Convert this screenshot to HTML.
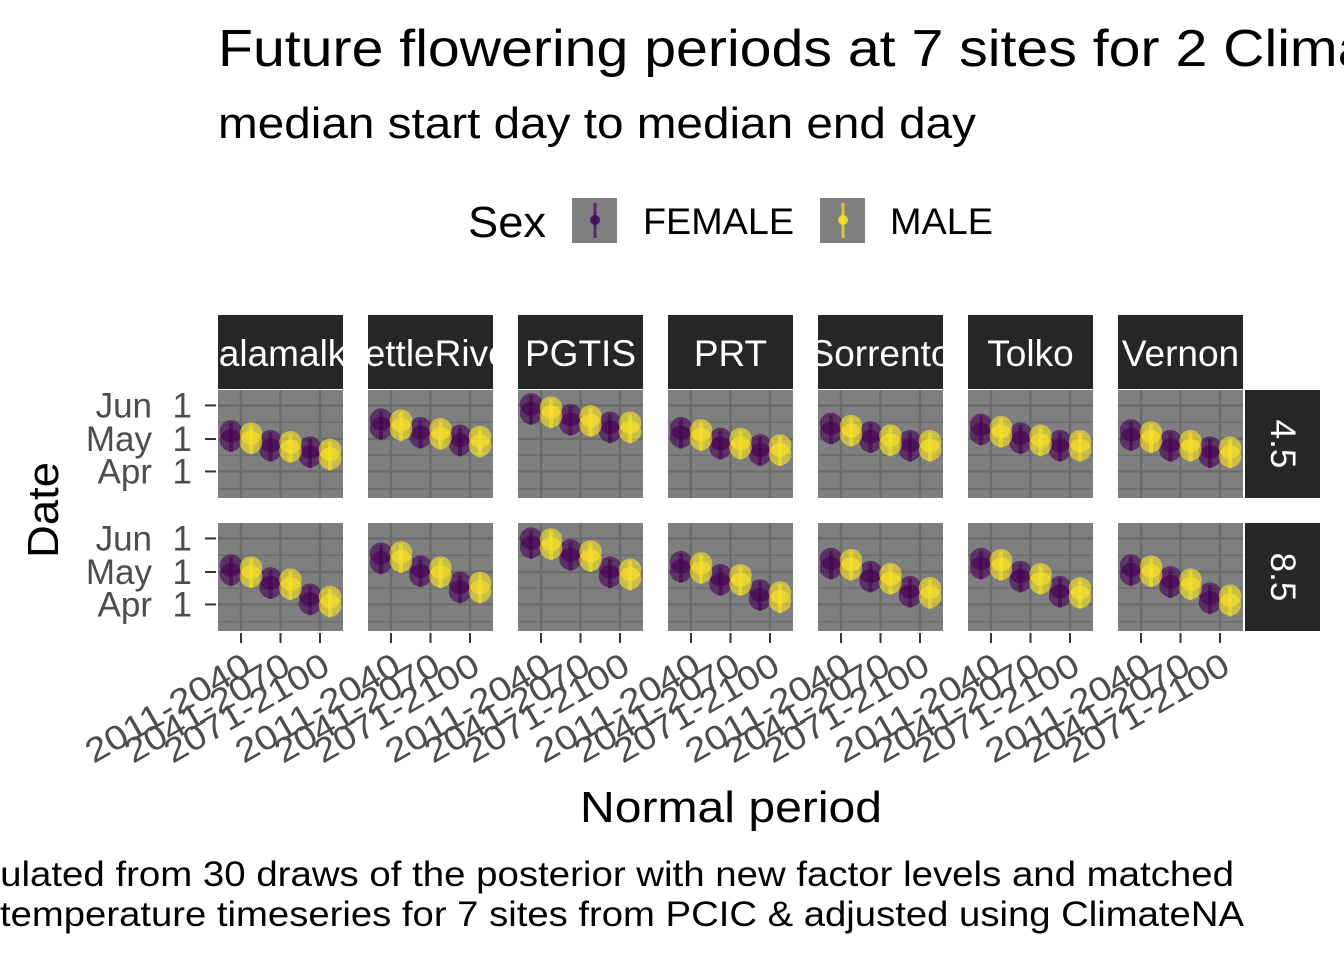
<!DOCTYPE html>
<html><head><meta charset="utf-8"><style>
body{margin:0;background:#fff}
svg{display:block;font-family:"Liberation Sans",Arial,sans-serif}
</style></head><body>
<svg id="chart" width="1344" height="960" viewBox="0 0 1344 960">
<text x="218" y="66" font-size="52" textLength="1460" lengthAdjust="spacingAndGlyphs" fill="#000">Future flowering periods at 7 sites for 2 Climate scenarios</text>
<text x="218" y="138" font-size="44" textLength="758" lengthAdjust="spacingAndGlyphs" fill="#000">median start day to median end day</text>
<g>
<text x="468" y="237" font-size="44" textLength="78" lengthAdjust="spacingAndGlyphs">Sex</text>
<g>
<rect x="572" y="198" width="45" height="45" fill="#7f7f7f"/>
<line x1="595" y1="203" x2="595" y2="238" stroke="#440154" stroke-width="3" opacity="0.7"/>
<circle cx="595" cy="220" r="5" fill="#440154" opacity="0.8"/>
<text x="643" y="234" font-size="37" textLength="151" lengthAdjust="spacingAndGlyphs">FEMALE</text></g>
<g>
<rect x="820" y="198" width="45" height="45" fill="#7f7f7f"/>
<line x1="843" y1="203" x2="843" y2="238" stroke="#fde725" stroke-width="3" opacity="0.7"/>
<circle cx="843" cy="220" r="5" fill="#fde725" opacity="0.8"/>
<text x="890" y="234" font-size="37" textLength="103" lengthAdjust="spacingAndGlyphs">MALE</text></g>
</g>
<text transform="translate(58,510) rotate(-90)" text-anchor="middle" font-size="44" textLength="96" lengthAdjust="spacingAndGlyphs">Date</text>
<text x="580" y="822" font-size="44" textLength="302" lengthAdjust="spacingAndGlyphs">Normal period</text>
<text x="1234" y="886" text-anchor="end" font-size="35" textLength="1300" lengthAdjust="spacingAndGlyphs">Simulated from 30 draws of the posterior with new factor levels and matched</text>
<text x="1244" y="926" text-anchor="end" font-size="35" textLength="1244" lengthAdjust="spacingAndGlyphs">temperature timeseries for 7 sites from PCIC &amp; adjusted using ClimateNA</text>
<g id="panels"></g>
</svg>
<script>
const sites = ["Salamalka","KettleRiver","PGTIS","PRT","Sorrento","Tolko","Vernon"];
const scenarios = ["4.5","8.5"];
const periods = ["2011-2040","2041-2070","2071-2100"];
const yTickMonths = ["Jun","May","Apr"];
const yTickDays = [152,121,91];
// median flowering centre day-of-year, [site] -> periods
const femaleMid45 = [[124,115,109],[135,127,120],[149,139,132],[127,117,111],[131,123,115],[130,122,115],[125,115,109]];
const maleMid45   = [[122,114,107],[134,126,119],[146,138,132],[125,117,111],[129,120,115],[128,120,115],[123,115,109]];
const femaleMid85 = [[123,111,96],[134,122,107],[148,137,121],[126,114,100],[129,117,103],[129,117,103],[123,112,97]];
const maleMid85   = [[121,110,94],[135,121,107],[147,136,119],[125,114,98],[128,115,102],[128,115,102],[122,110,95]];
const halfSpan = [4,4];

const NS="http://www.w3.org/2000/svg";
const root=document.getElementById('panels');
function el(t,a,p){const e=document.createElementNS(NS,t);for(const k in a)e.setAttribute(k,a[k]);(p||root).appendChild(e);return e;}
const PW=125, rowTop=[390,523], PH=108, may1Y=[439,572];
function yScale(r,d){return may1Y[r]-(d-121)*1.082;}
function xScale(c,i){return 218+c*150+23+i*39.5;}
scenarios.forEach((sc,r)=>{
  const fem = r===0?femaleMid45:femaleMid85, mal = r===0?maleMid45:maleMid85;
  yTickDays.forEach((d,k)=>{
    const y=yScale(r,d);
    const t=el('text',{x:152,y:y+12,'text-anchor':'end','font-size':35,fill:'#4d4d4d'});
    
    
    t.textContent=yTickMonths[k];
    const t2=el('text',{x:192,y:y+12,'text-anchor':'end','font-size':35,fill:'#4d4d4d'});
    
    
    t2.textContent='1';
    el('line',{x1:205,x2:216,y1:y,y2:y,stroke:'#333','stroke-width':2});
  });
  const rs=el('g',{});
  
  
  el('rect',{x:1245,y:rowTop[r],width:75,height:PH,fill:'#262626'},rs);
  const st=el('text',{transform:`translate(1271,${rowTop[r]+PH/2}) rotate(90)`,'text-anchor':'middle','font-size':35,fill:'#fff'},rs);
  st.textContent=sc;
  sites.forEach((s,c)=>{
    const x0=218+c*150;
    const g=el('g',{});
    
    
    el('rect',{x:x0,y:rowTop[r],width:PW,height:PH,fill:'#7f7f7f'},g);
    const clip=el('clipPath',{id:'cp'+r+c},g);
    el('rect',{x:x0,y:rowTop[r],width:PW,height:PH},clip);
    const gg=el('g',{'clip-path':`url(#cp${r}${c})`},g);
    [75,106,136.5,167].forEach(d=>{const y=yScale(r,d);el('line',{x1:x0,x2:x0+PW,y1:y,y2:y,stroke:'#6b6b6b','stroke-width':1.2},gg);});
    yTickDays.forEach(d=>{const y=yScale(r,d);el('line',{x1:x0,x2:x0+PW,y1:y,y2:y,stroke:'#6b6b6b','stroke-width':2.4},gg);});
    periods.forEach((p,i)=>{const x=xScale(c,i);el('line',{x1:x,x2:x,y1:rowTop[r],y2:rowTop[r]+PH,stroke:'#6b6b6b','stroke-width':2.4},gg);});
    [[fem,'#440154',-10,'female'],[mal,'#fde725',10,'male']].forEach(([arr,col,dx,nm])=>{
      arr[c].forEach((m,i)=>{
        const x=xScale(c,i)+dx;
        const pt=el('g',{},gg);
        
        
        el('line',{x1:x,x2:x,y1:yScale(r,m-halfSpan[0]-11),y2:yScale(r,m+halfSpan[1]+8),stroke:col,'stroke-width':4,opacity:0.55},pt);
        el('circle',{cx:x,cy:yScale(r,m-halfSpan[0]),r:10.5,fill:col,opacity:0.6,stroke:col,'stroke-width':1.5},pt);
        el('circle',{cx:x,cy:yScale(r,m+halfSpan[1]),r:10.5,fill:col,opacity:0.6,stroke:col,'stroke-width':1.5},pt);
      });
    });
    if(r===0){
      const sg=el('g',{});
      
      
      el('rect',{x:x0,y:315,width:PW,height:74,fill:'#262626'},sg);
      const cp2=el('clipPath',{id:'sc'+c},sg);
      el('rect',{x:x0,y:315,width:PW,height:74},cp2);
      const t=el('text',{x:x0+PW/2,y:366,'text-anchor':'middle','font-size':37,fill:'#fff','clip-path':`url(#sc${c})`},sg);
      t.textContent=s;
    }
    if(r===1){
      periods.forEach((p,i)=>{
        const x=xScale(c,i);
        el('line',{x1:x,x2:x,y1:633,y2:643,stroke:'#333','stroke-width':2});
        const t=el('text',{transform:`translate(${x+12},${672}) rotate(-30)`,'text-anchor':'end','font-size':34,textLength:184,lengthAdjust:'spacingAndGlyphs',fill:'#4d4d4d'});
        
        
        t.textContent=p;
      });
    }
  });
});
</script>
</body></html>
